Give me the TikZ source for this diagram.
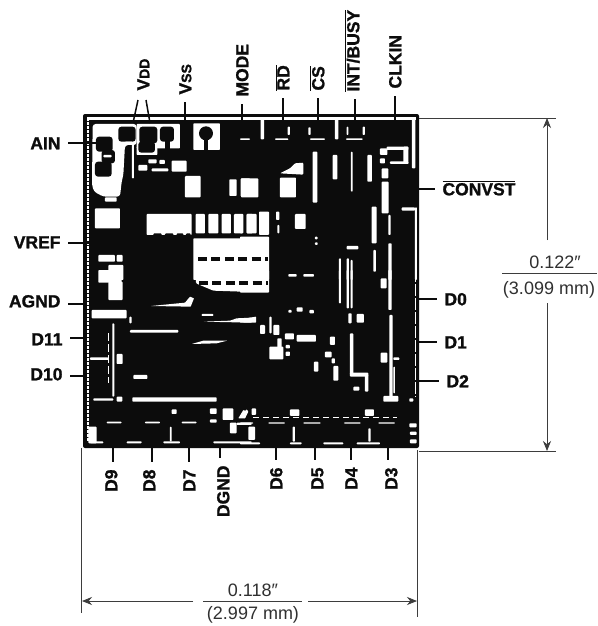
\documentclass[tikz,border=0pt]{standalone}
\usepackage{fontspec}
\setmainfont{Liberation Sans}[BoldFeatures={FakeBold=1.2}]
\usetikzlibrary{arrows.meta}
\definecolor{ink}{HTML}{0C0C0C}
\definecolor{paper}{HTML}{FFFFFF}
\newcommand\wb[4]{\fill[paper,rounded corners=.8] (#1,#2) rectangle (#3,#4);}
\newcommand\kb[4]{\fill[ink,rounded corners=3] (#1,#2) rectangle (#3,#4);}
\newcommand\ovl[1]{$\overline{\mbox{#1}}$}
\newcommand\toppin[6]{% name, text, text x, text bottom y, pin x, pin y
  \coordinate (#1p) at (#5,#6);
  \node[pinlabel,rotate=90,anchor=base west] (#1) at ({#3+6.3},{#4+7}) {#2};
  \draw[lead] (#1p |- #1.west) -- (#1p);}
\newcommand\botpin[6]{%
  \coordinate (#1p) at (#5,#6);
  \node[pinlabel,rotate=90,anchor=base east] (#1) at ({#3+6.3},{#4-6}) {#2};
  \draw[lead] (#1p) -- (#1p |- #1.east);}
\newcommand\leftpin[6]{%
  \coordinate (#1p) at (#5,#6);
  \node[pinlabel,anchor=base east] (#1) at ({#3+8},{#4+6.3}) {#2};
  \draw[lead] (#1.east |- #1p) -- (#1p);}
\newcommand\rightpin[6]{%
  \coordinate (#1p) at (#5,#6);
  \node[pinlabel,anchor=base west] (#1) at ({#3-8},{#4+6.3}) {#2};
  \draw[lead] (#1p) -- (#1.west |- #1p);}
\tikzset{
  pinlabel/.style={font=\bfseries\fontsize{17.5}{20}\selectfont,text=ink,inner ysep=0pt,outer sep=0pt,inner xsep=7.5pt},
  lead/.style={draw=ink,line width=1.5pt},
  dimtext/.style={font=\fontsize{18}{21}\selectfont,text=ink!85,inner sep=0pt},
  dimline/.style={draw=ink!80,line width=.8pt},
  dimarrow/.style={dimline,-{Stealth[length=10pt,width=8pt]}},
}
\begin{document}
\begin{tikzpicture}[x=1pt,y=-1pt]
\useasboundingbox[fill=paper] (0,0) rectangle (597,626);
% die body
\fill[ink,rounded corners=2] (83,114) rectangle (419,448);
\draw[paper,line width=2.4pt] (87,118.5) -- (416,118.5);
\draw[paper,line width=2.4pt,dash pattern=on 3pt off 1pt] (88,118) -- (88,442);
% upper left quadrant
\begin{scope}[shift={(70,100)},scale=.3333]
\fill[paper,rounded corners=3] (68,72) -- (200,72) -- (200,135) -- (165,135) -- (160,225) -- (155,245) -- (150,290) -- (100,290) -- (72,275) -- (66,255) -- cycle;
\wb{186}{130}{192}{235}
\wb{200}{72}{330}{145}
\wb{200}{140}{262}{165}
\wb{370}{70}{450}{150}
\kb{78}{110}{128}{155}
\kb{95}{150}{135}{190}
\kb{75}{185}{125}{230}
\wb{100}{165}{125}{172}
\kb{145}{80}{197}{125}
\wb{165}{125}{188}{135}
\kb{208}{80}{262}{130}
\kb{205}{125}{255}{158}
\kb{270}{80}{312}{125}
\fill[ink] (285,120) rectangle (300,146);
\fill[ink] (408,100) circle (21);
\fill[ink] (403,118) rectangle (414,150);
\wb{205}{195}{232}{212}
\wb{235}{178}{260}{190}
\wb{268}{180}{285}{192}
\wb{245}{205}{295}{214}
\wb{305}{182}{350}{215}
\wb{345}{228}{392}{292}
\wb{478}{238}{500}{288}
\wb{512}{235}{540}{290}
\wb{105}{292}{140}{305}
\wb{75}{325}{150}{385}
\wb{230}{342}{365}{405}
\wb{377}{342}{405}{400}
\wb{415}{342}{445}{400}
\wb{455}{342}{483}{400}
\wb{492}{342}{520}{400}
\wb{530}{342}{548}{400}
\wb{370}{415}{545}{540}
\wb{85}{465}{135}{485}
\wb{115}{495}{160}{540}
\wb{140}{465}{158}{485}
\fill[ink,rounded corners=1] (250,400) rectangle (275,415);
\fill[ink,rounded corners=1] (285,400) rectangle (310,415);
\fill[ink,rounded corners=1] (320,400) rectangle (340,415);
\fill[ink,rounded corners=1] (348,400) rectangle (362,415);
\end{scope}
% upper right quadrant
\begin{scope}[shift={(240,100)},scale=.3333]
\wb{62}{56}{72}{118}
\wb{285}{56}{295}{118}
\wb{516}{56}{526}{205}
\wb{0}{115}{30}{120}
\wb{105}{115}{145}{120}
\wb{210}{115}{255}{120}
\wb{318}{115}{368}{120}
\wb{143}{80}{150}{105}
\wb{205}{82}{212}{105}
\wb{320}{80}{325}{105}
\wb{368}{80}{375}{105}
\wb{420}{145}{442}{165}
\wb{440}{140}{505}{150}
\wb{490}{140}{505}{192}
\wb{450}{184}{505}{192}
\wb{420}{175}{435}{190}
\wb{425}{205}{445}{235}
\wb{425}{245}{446}{340}
\wb{218}{155}{232}{308}
\wb{278}{165}{292}{238}
\wb{333}{155}{338}{275}
\wb{382}{165}{396}{245}
\fill[paper,rounded corners=1] (120,220) -- (150,205) -- (165,190) -- (190,188) -- (190,224) -- cycle;
\wb{120}{233}{168}{292}
\wb{3}{235}{55}{292}
\wb{0}{345}{8}{400}
\wb{20}{342}{50}{400}
\wb{57}{335}{87}{405}
\wb{108}{335}{118}{360}
\wb{112}{375}{118}{400}
\wb{165}{342}{197}{387}
\wb{395}{320}{410}{430}
\wb{400}{450}{408}{515}
\wb{445}{345}{452}{405}
\wb{445}{430}{455}{540}
\wb{525}{322}{531}{540}
\wb{485}{322}{525}{332}
\wb{297}{475}{303}{540}
\wb{320}{475}{327}{540}
\wb{332}{480}{338}{540}
\wb{320}{438}{355}{448}
\wb{225}{410}{233}{418}
\wb{225}{427}{233}{435}
\wb{0}{410}{87}{540}
\end{scope}
% lower left quadrant
\begin{scope}[shift={(70,270)},scale=.3333]
\fill[paper,rounded corners=1] (378,0) -- (545,0) -- (545,66) -- (430,62) -- (378,40) -- cycle;
\wb{85}{0}{155}{38}
\wb{115}{35}{158}{90}
\wb{65}{120}{170}{145}
\wb{178}{140}{185}{160}
\wb{180}{180}{325}{188}
\wb{127}{160}{133}{380}
\draw[paper,line width=1pt,dash pattern=on 8pt off 3pt] (117,190) -- (117,340);
\wb{60}{262}{115}{270}
\wb{140}{252}{158}{282}
\wb{190}{315}{232}{327}
\wb{70}{385}{130}{392}
\wb{140}{380}{157}{395}
\wb{187}{382}{440}{395}
\fill[paper,rounded corners=.5] (243,108) -- (345,98) -- (360,80) -- (372,85) -- (362,110) -- cycle;
\wb{395}{132}{430}{138}
\fill[paper,rounded corners=.5] (400,155) -- (480,152) -- (500,145) -- (545,143) -- (545,158) -- cycle;
\fill[paper,rounded corners=.5] (365,222) -- (400,212) -- (472,212) -- (440,220) -- cycle;
\wb{305}{418}{320}{432}
\wb{420}{415}{440}{432}
\wb{420}{448}{440}{458}
\wb{458}{415}{490}{450}
\fill[paper,rounded corners=.5] (505,445) -- (520,420) -- (532,425) -- (525,445) -- cycle;
\wb{480}{458}{500}{490}
\wb{500}{458}{545}{465}
\wb{55}{470}{80}{520}
\wb{110}{455}{155}{460}
\wb{225}{455}{270}{460}
\wb{335}{455}{380}{460}
\wb{300}{470}{305}{515}
\wb{60}{514}{100}{520}
\wb{170}{514}{215}{520}
\wb{280}{514}{330}{520}
\wb{430}{514}{545}{520}
\end{scope}
% lower right quadrant
\begin{scope}[shift={(240,270)},scale=.3333]
\wb{0}{0}{87}{68}
\wb{145}{12}{170}{20}
\wb{190}{12}{222}{20}
\wb{297}{0}{303}{100}
\wb{320}{0}{327}{115}
\wb{332}{0}{338}{115}
\wb{445}{0}{455}{120}
\wb{422}{25}{440}{55}
\wb{350}{132}{372}{158}
\wb{325}{130}{335}{160}
\fill[paper,rounded corners=.5] (0,148) -- (48,140) -- (48,158) -- (0,158) -- cycle;
\wb{88}{140}{95}{190}
\wb{60}{165}{75}{192}
\wb{100}{165}{118}{195}
\wb{135}{190}{162}{208}
\wb{170}{195}{228}{215}
\wb{88}{230}{130}{268}
\wb{112}{205}{125}{235}
\wb{137}{225}{150}{235}
\wb{137}{245}{150}{258}
\wb{270}{200}{285}{225}
\wb{255}{245}{275}{262}
\wb{222}{275}{235}{305}
\wb{280}{288}{295}{332}
\wb{275}{265}{285}{280}
\wb{330}{190}{340}{315}
\wb{330}{308}{385}{320}
\wb{375}{315}{385}{365}
\wb{340}{350}{358}{362}
\wb{448}{135}{458}{385}
\wb{430}{378}{475}{395}
\wb{422}{248}{442}{278}
\wb{460}{262}{478}{270}
\wb{460}{290}{465}{370}
\draw[paper,line width=1.2pt,dash pattern=on 12pt off 2pt] (527,0) -- (527,380);
\wb{508}{385}{520}{395}
\wb{145}{120}{155}{128}
\wb{170}{112}{188}{125}
\wb{208}{120}{222}{130}
\fill[paper,rounded corners=.5] (0,440) -- (20,418) -- (25,425) -- (15,445) -- cycle;
\wb{35}{415}{48}{435}
\wb{150}{418}{178}{438}
\wb{375}{418}{402}{438}
\draw[paper,line width=1pt,dash pattern=on 6pt off 4pt] (40,443) -- (470,443);
\wb{0}{457}{40}{461}
\wb{85}{457}{135}{461}
\wb{190}{457}{242}{461}
\wb{312}{457}{362}{461}
\wb{415}{457}{465}{461}
\wb{25}{470}{45}{510}
\wb{158}{470}{165}{515}
\wb{385}{475}{392}{515}
\wb{508}{460}{530}{472}
\wb{510}{485}{530}{495}
\wb{510}{508}{530}{520}
\wb{0}{517}{60}{523}
\wb{150}{517}{185}{523}
\wb{250}{517}{310}{523}
\wb{350}{517}{420}{523}
\end{scope}
% gate dashes in the open area
\draw[ink,line width=3.2pt,dash pattern=on 9pt off 4.4pt] (198,259) -- (268,259);
\draw[ink,line width=3.2pt,dash pattern=on 9pt off 4.4pt] (199,283) -- (268,283);
% pins, top
\node[pinlabel,rotate=90,anchor=base west] (vdd) at (149.3,98) {V{\fontsize{14}{16}\selectfont DD}};
\coordinate (vddl) at (133,123);
\coordinate (vddr) at (150,123);
\coordinate (vdda) at (138,100);
\coordinate (vddb) at (146,100);
\draw[lead] (vdda) -- (vddl);
\draw[lead] (vddb) -- (vddr);
\node[pinlabel,rotate=90,anchor=base west] (vss) at (191.3,102) {V{\fontsize{14}{16}\selectfont SS}};
\coordinate (vssp) at (185,122);
\draw[lead] (vssp |- vss.west) -- (vssp);
\toppin{mode}{MODE}{242}{97}{242}{122}
\toppin{rd}{\ovl{RD}}{283}{91}{283}{122}
\toppin{cs}{\ovl{CS}}{318}{91}{318}{122}
\toppin{intb}{\ovl{INT/BUSY}}{353}{92}{355}{122}
\toppin{clk}{CLKIN}{395}{89}{395}{122}
% pins, left
\leftpin{ain}{AIN}{60}{143}{96}{143}
\leftpin{vref}{VREF}{60}{242}{92}{243}
\leftpin{agnd}{AGND}{60}{301}{86}{304}
\leftpin{dxi}{D11}{62}{339}{86}{338}
\leftpin{dx}{D10}{62}{374}{86}{376}
% pins, right
\rightpin{conv}{\ovl{CONVST}}{443}{189}{416}{189}
\rightpin{dzero}{D0}{445}{299}{416}{299}
\rightpin{done}{D1}{445}{342}{416}{342}
\rightpin{dtwo}{D2}{447}{381}{416}{381}
% pins, bottom
\botpin{dnine}{D9}{111}{468}{113}{446}
\botpin{deight}{D8}{149}{468}{152}{446}
\botpin{dseven}{D7}{189}{468}{189}{446}
\botpin{dgnd}{DGND}{223}{464}{220}{446}
\botpin{dsix}{D6}{276}{466}{276}{446}
\botpin{dfive}{D5}{317}{466}{315}{446}
\botpin{dfour}{D4}{351}{466}{351}{446}
\botpin{dthree}{D3}{391}{466}{388}{446}
% height dimension
\coordinate (hta) at (419,118);
\coordinate (htb) at (556,118);
\coordinate (hba) at (419,451);
\coordinate (hbb) at (556,451);
\coordinate (aru) at (547,118);
\coordinate (ard) at (547,451);
\coordinate (aus) at (547,240);
\coordinate (ads) at (547,303);
\coordinate (hfl) at (502,273);
\coordinate (hfr) at (597,273);
\draw[dimline] (hta) -- (htb);
\draw[dimline] (hba) -- (hbb);
\draw[dimarrow] (aus) -- (aru);
\draw[dimarrow] (ads) -- (ard);
\draw[dimline] (hfl) -- (hfr);
\node[dimtext,anchor=base] (hval) at (555,268) {0.122″};
\node[dimtext,anchor=base] (hmm) at (549,294) {(3.099 mm)};
% width dimension
\coordinate (wla) at (81,448);
\coordinate (wlb) at (81,613);
\coordinate (wra) at (417,450);
\coordinate (wrb) at (417,617);
\coordinate (all) at (82,601);
\coordinate (arr) at (417,601);
\coordinate (als) at (193,601);
\coordinate (ars) at (308,601);
\coordinate (wfl) at (203,601);
\coordinate (wfr) at (302,601);
\draw[dimline] (wla) -- (wlb);
\draw[dimline] (wra) -- (wrb);
\draw[dimarrow] (als) -- (all);
\draw[dimarrow] (ars) -- (arr);
\draw[dimline] (wfl) -- (wfr);
\node[dimtext,anchor=base] (wval) at (253,596) {0.118″};
\node[dimtext,anchor=base] (wmm) at (253,619) {(2.997 mm)};
\end{tikzpicture}
\end{document}
